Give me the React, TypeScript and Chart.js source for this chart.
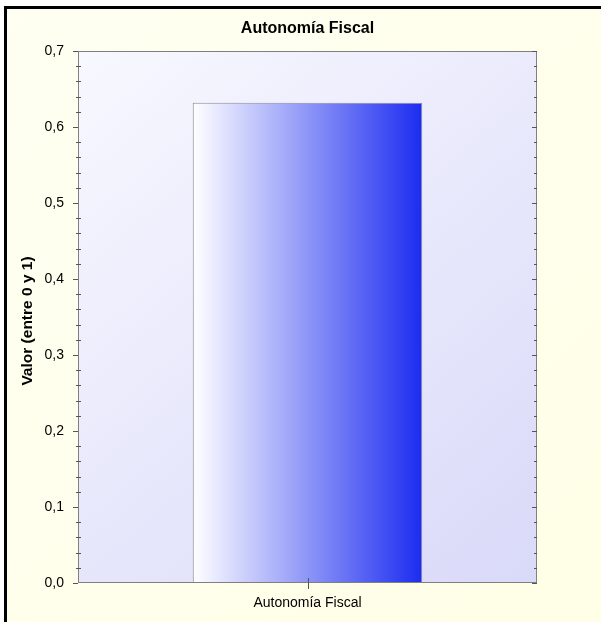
import React, { useEffect, useRef } from "react";
import { Chart, registerables } from "chart.js";

Chart.register(...registerables);

const categories = ["Autonomía Fiscal"];
const values = [0.632];
const yTicks = [0, 0.1, 0.2, 0.3, 0.4, 0.5, 0.6, 0.7];
const chartTitle = "Autonomía Fiscal";
const yTitle = "Valor (entre 0 y 1)";

const fmt = (v: number) => v.toFixed(1).replace(".", ",");
const FONT = "'Liberation Sans', Arial, sans-serif";

const framePlugin = {
  id: "frame",
  beforeDraw(chart: any) {
    const { ctx, width, height, chartArea: a } = chart;
    ctx.save();
    ctx.fillStyle = "#ffffff";
    ctx.fillRect(0, 0, width, height);
    const bg = ctx.createLinearGradient(0, 0, width, height);
    bg.addColorStop(0, "#fffff2");
    bg.addColorStop(1, "#fffee6");
    ctx.fillStyle = bg;
    ctx.fillRect(7, 9, width, height);
    ctx.fillStyle = "#000000";
    ctx.fillRect(4, 6, width, 3);
    ctx.fillRect(4, 6, 3, height);
    const pg = ctx.createLinearGradient(a.left, a.top, a.right, a.bottom);
    pg.addColorStop(0, "#f8f8ff");
    pg.addColorStop(1, "#d9d9f9");
    ctx.fillStyle = pg;
    ctx.fillRect(a.left, a.top, a.right - a.left, a.bottom - a.top);
    ctx.restore();
  },
  afterDatasetsDraw(chart: any) {
    const { ctx, chartArea: a, scales } = chart;
    const y = scales.y;
    const x = scales.x;
    ctx.save();
    ctx.strokeStyle = "#808080";
    ctx.lineWidth = 1;
    ctx.strokeRect(a.left + 0.5, a.top + 0.5, a.right - a.left - 1, a.bottom - a.top - 1);
    ctx.strokeStyle = "#555555";
    ctx.beginPath();
    for (let i = 0; i < yTicks.length; i++) {
      const py = Math.round(y.getPixelForValue(yTicks[i])) + 0.5;
      ctx.moveTo(a.left - 5, py);
      ctx.lineTo(a.left, py);
      ctx.moveTo(a.right - 5, py);
      ctx.lineTo(a.right, py);
      if (i < yTicks.length - 1) {
        const step = (yTicks[i + 1] - yTicks[i]) / 5;
        for (let k = 1; k < 5; k++) {
          const my = Math.round(y.getPixelForValue(yTicks[i] + step * k)) + 0.5;
          ctx.moveTo(a.left - 2, my);
          ctx.lineTo(a.left + 3, my);
          ctx.moveTo(a.right - 3, my);
          ctx.lineTo(a.right, my);
        }
      }
    }
    const px = Math.round(x.getPixelForValue(0)) + 0.5;
    ctx.moveTo(px, a.bottom - 5);
    ctx.lineTo(px, a.bottom + 6);
    ctx.stroke();
    ctx.fillStyle = "#000000";
    ctx.font = "bold 16px " + FONT;
    ctx.textAlign = "center";
    ctx.textBaseline = "middle";
    ctx.fillText(chartTitle, (a.left + a.right) / 2, 29);
    ctx.translate(28, (a.top + a.bottom) / 2 + 4);
    ctx.rotate(-Math.PI / 2);
    ctx.font = "bold 15.5px " + FONT;
    ctx.fillText(yTitle, 0, 0);
    ctx.restore();
  },
};

export default function App() {
  const ref = useRef<HTMLCanvasElement>(null);
  useEffect(() => {
    const canvas = ref.current!;
    const chart = new Chart(canvas, {
      type: "bar",
      data: {
        labels: categories,
        datasets: [
          {
            data: values,
            backgroundColor: (c: any) => {
              const ch = c.chart;
              const a = ch.chartArea;
              if (!a) return "#1c2cf0";
              const w = a.right - a.left;
              const g = ch.ctx.createLinearGradient(a.left + w * 0.25, 0, a.left + w * 0.75, 0);
              g.addColorStop(0, "#ffffff");
              g.addColorStop(1, "#1c2cf0");
              return g;
            },
            borderColor: "#8a8a9a",
            borderWidth: 1,
            borderSkipped: "bottom",
            barPercentage: 0.5,
            categoryPercentage: 1,
          },
        ],
      },
      options: {
        responsive: false,
        animation: false,
        devicePixelRatio: 1,
        layout: { padding: { top: 51, right: 64, left: 0, bottom: 0 } },
        plugins: { legend: { display: false }, tooltip: { enabled: false }, title: { display: false } },
        scales: {
          x: {
            grid: { display: false, drawTicks: false },
            border: { display: false },
            ticks: {
              color: "#000000",
              padding: 12,
              font: { family: FONT, size: 14 },
            },
            afterFit: (s: any) => {
              s.height = 39;
            },
          },
          y: {
            min: 0,
            max: 0.7,
            grid: { display: false, drawTicks: false },
            border: { display: false },
            afterBuildTicks: (s: any) => {
              s.ticks = yTicks.map((v) => ({ value: v }));
            },
            ticks: {
              color: "#000000",
              padding: 14,
              callback: (v: any) => fmt(Number(v)),
              font: { family: FONT, size: 14 },
            },
            afterFit: (s: any) => {
              s.width = 78;
            },
          },
        },
      },
      plugins: [framePlugin],
    } as any);
    return () => chart.destroy();
  }, []);
  return (
    <div style={{ position: "absolute", left: 0, top: 0, width: 601, height: 622 }}>
      <canvas ref={ref} width={601} height={622} style={{ display: "block" }} />
    </div>
  );
}
